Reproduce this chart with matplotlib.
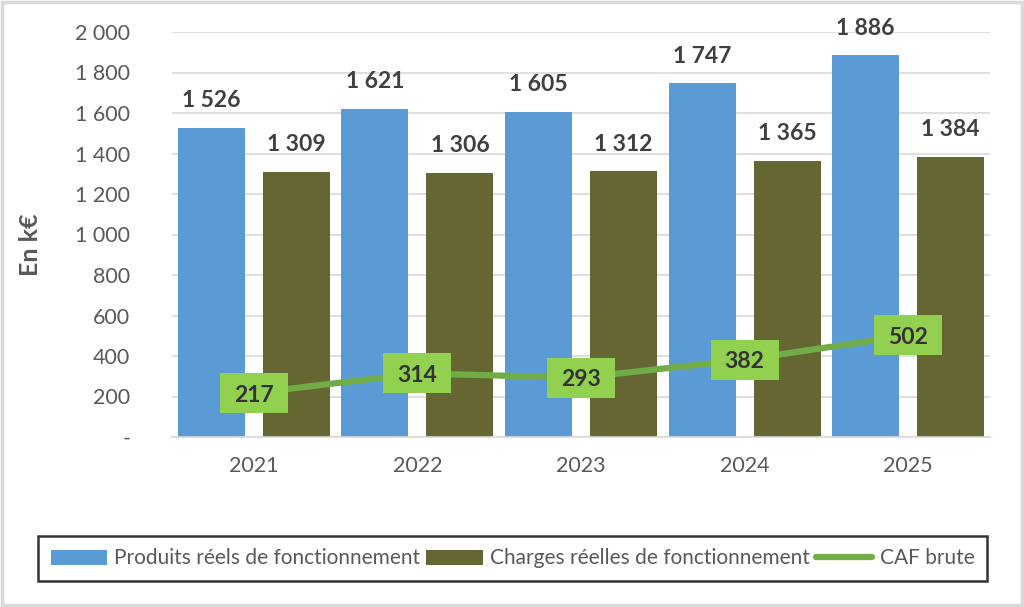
import matplotlib
matplotlib.use("Agg")
import matplotlib.pyplot as plt
from matplotlib.patches import Rectangle
from matplotlib.transforms import ScaledTranslation

years = ["2021", "2022", "2023", "2024", "2025"]
produits = [1526, 1621, 1605, 1747, 1886]
charges = [1309, 1306, 1312, 1365, 1384]
caf = [217, 314, 293, 382, 502]
yticks = [0, 200, 400, 600, 800, 1000, 1200, 1400, 1600, 1800, 2000]
ytick_labels = ["-", "200", "400", "600", "800", "1 000", "1 200", "1 400", "1 600", "1 800", "2 000"]

plt.rcParams['font.family'] = ['Lato', 'DejaVu Sans']

W, H = 1024, 607
fig = plt.figure(figsize=(W/100, H/100), dpi=100)
fig.patch.set_facecolor("white")
fig.add_artist(Rectangle((0.0015, 0.0025), 0.997, 0.995, transform=fig.transFigure,
                         fill=False, edgecolor="#D9D9D9", linewidth=2.5))

ax = fig.add_axes([172/W, (H-437)/H, 818/W, (437-32)/H])
x = list(range(len(years)))
bw = 0.41
off = 0.26
blue = "#5B9BD5"
olive = "#666633"
green_line = "#70AD47"
green_box = "#92D050"
txt = "#404040"
tick_col = "#595959"

b1 = ax.bar([i - off for i in x], produits, bw, color=blue, label="Produits réels de fonctionnement", zorder=2)
b2 = ax.bar([i + off for i in x], charges, bw, color=olive, label="Charges réelles de fonctionnement", zorder=2)
ln, = ax.plot(x, caf, color=green_line, linewidth=4.5, label="CAF brute", zorder=3, solid_capstyle="round")

for rects, vals in ((b1, produits), (b2, charges)):
    for r, v in zip(rects, vals):
        ax.annotate(f"{v:,}".replace(",", " "), (r.get_x() + r.get_width()/2, v),
                    xytext=(0, 19.5), textcoords="offset points", ha="center", va="center",
                    fontsize=16.5, fontweight="bold", color=txt)

for i, v in zip(x, caf):
    tr = fig.dpi_scale_trans + ScaledTranslation(i, v, ax.transData)
    ax.add_patch(Rectangle((-0.34, -0.20), 0.68, 0.40, transform=tr,
                           facecolor=green_box, edgecolor="none", zorder=4, clip_on=False))
    ax.text(i, v, str(v), ha="center", va="center_baseline", fontsize=16.5, fontweight="bold",
            color="#333333", zorder=5)

ax.set_xlim(-0.5, 4.5)
ax.set_ylim(0, 2000)
ax.set_yticks(yticks)
ax.set_yticklabels(ytick_labels)
ax.set_xticks(x)
ax.set_xticklabels(years)
ax.tick_params(axis="y", length=0, pad=30, labelsize=15.5, labelcolor=tick_col)
ax.tick_params(axis="x", length=0, pad=14, labelsize=15.5, labelcolor=tick_col)
ax.grid(axis="y", color="#D9D9D9", linewidth=1.2, zorder=0)
ax.set_axisbelow(True)
for s in ["top", "right", "left"]:
    ax.spines[s].set_visible(False)
ax.spines["bottom"].set_color("#D9D9D9")
ax.spines["bottom"].set_linewidth(1.2)

fig.text(30/W, 1 - 245/H, "En k€", rotation=90, ha="center", va="center",
         fontsize=18, fontweight="bold", color=tick_col)

leg = fig.legend(handles=[b1, b2, ln], loc="lower left",
                 bbox_to_anchor=(38/W, (H-581)/H, 949/W, 53/H), mode="expand",
                 ncol=3, frameon=True, fancybox=False, fontsize=15,
                 handlelength=2.7, handletextpad=0.35, borderaxespad=0, borderpad=0.6,
                 columnspacing=0.5, labelcolor=tick_col)
leg.get_frame().set_edgecolor("black")
leg.get_frame().set_linewidth(1.8)

fig.savefig("out.png", dpi=100, facecolor="white")
